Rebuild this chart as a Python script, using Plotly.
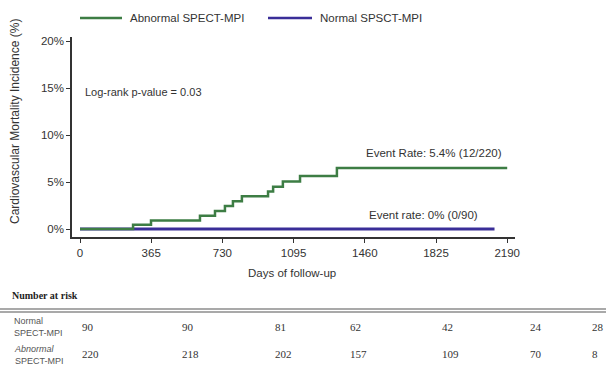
import plotly.graph_objects as go

# Kaplan-Meier cumulative incidence (%) by day of follow-up
abn_days = [0, 272, 364, 615, 692, 743, 784, 830, 964, 990, 1040, 1128, 1317, 2190]
abn_inc = [0.0, 0.45, 0.92, 1.42, 1.93, 2.45, 2.97, 3.48, 4.0, 4.5, 5.05, 5.65, 6.5, 6.5]
norm_days = [0, 2125]
norm_inc = [0.0, 0.0]

x_ticks = [0, 365, 730, 1095, 1460, 1825, 2190]
y_ticks = [0, 5, 10, 15, 20]

# Number-at-risk table
risk_normal = [90, 90, 81, 62, 42, 24, 28]
risk_abnormal = [220, 218, 202, 157, 109, 70, 8]

GREEN = "#3d7d44"
BLUE = "#3a2e98"
TEXT = "#333333"
SANS = "Liberation Sans, Arial, sans-serif"
SERIF = "Liberation Serif, Times New Roman, serif"

W, H = 606, 390
L, R, T, B = 72, 91, 37, 153
PW, PH = W - L - R, H - T - B


def px(x):
    return (x - L) / PW


def py(y):
    return (H - B - y) / PH


fig = go.Figure()
fig.add_trace(go.Scatter(x=norm_days, y=norm_inc, mode="lines",
                         line=dict(color=BLUE, width=3, shape="hv"),
                         name="Normal SPSCT-MPI", showlegend=False))
fig.add_trace(go.Scatter(x=abn_days, y=abn_inc, mode="lines",
                         line=dict(color=GREEN, width=2.5, shape="hv"),
                         name="Abnormal SPECT-MPI", showlegend=False))

shapes = []
annotations = []

# Legend
for x0, x1, col, label in [(80, 122, GREEN, "Abnormal SPECT-MPI"),
                           (268, 312, BLUE, "Normal SPSCT-MPI")]:
    shapes.append(dict(type="line", xref="paper", yref="paper",
                       x0=px(x0), x1=px(x1), y0=py(18), y1=py(18),
                       line=dict(color=col, width=2.5)))
    annotations.append(dict(xref="paper", yref="paper", x=px(x1 + 6), y=py(18),
                            text=label, showarrow=False, xanchor="left",
                            yanchor="middle", font=dict(size=11.5, color=TEXT, family=SANS)))

annotations += [
    dict(xref="paper", yref="paper", x=px(83), y=py(92), text="Log-rank p-value = 0.03",
         showarrow=False, xanchor="left", yanchor="middle",
         font=dict(size=11, color=TEXT, family=SANS)),
    dict(x=1815, y=8.1, text="Event Rate: 5.4% (12/220)", showarrow=False,
         xanchor="center", yanchor="middle", font=dict(size=11.5, color=TEXT, family=SANS)),
    dict(x=1763, y=1.5, text="Event rate: 0% (0/90)", showarrow=False,
         xanchor="center", yanchor="middle", font=dict(size=11.5, color=TEXT, family=SANS)),
    dict(xref="paper", yref="paper", x=px(15), y=py(122),
         text="Cardiovascular Mortality Incidence (%)", textangle=-90, showarrow=False,
         xanchor="center", yanchor="middle", font=dict(size=12, color=TEXT, family=SANS)),
    dict(xref="paper", yref="paper", x=px(292), y=py(273), text="Days of follow-up",
         showarrow=False, xanchor="center", yanchor="middle",
         font=dict(size=11.5, color=TEXT, family=SANS)),
    dict(xref="paper", yref="paper", x=px(10), y=py(295), text="<b>Number at risk</b>",
         showarrow=False, xanchor="left", yanchor="middle",
         font=dict(size=10, color="#222222", family=SERIF)),
    dict(xref="paper", yref="paper", x=px(12), y=py(327), text="Normal<br>SPECT-MPI",
         showarrow=False, xanchor="left", yanchor="middle", align="left",
         font=dict(size=9, color="#555555", family=SANS)),
    dict(xref="paper", yref="paper", x=px(12), y=py(355), text="<i>Abnormal</i><br>SPECT-MPI",
         showarrow=False, xanchor="left", yanchor="middle", align="left",
         font=dict(size=9, color="#555555", family=SANS)),
]

# Table rules
for yy in (309, 312):
    shapes.append(dict(type="line", xref="paper", yref="paper",
                       x0=px(0), x1=px(W), y0=py(yy), y1=py(yy),
                       line=dict(color="#555555", width=1.2)))

col_x = [80, 180, 273, 348, 440, 528, 590]
for cx, n_norm, n_abn in zip(col_x, risk_normal, risk_abnormal):
    annotations.append(dict(xref="paper", yref="paper", x=px(cx), y=py(327),
                            text=str(n_norm), showarrow=False, xanchor="left",
                            yanchor="middle", font=dict(size=11, color=TEXT, family=SERIF)))
    annotations.append(dict(xref="paper", yref="paper", x=px(cx), y=py(354),
                            text=str(n_abn), showarrow=False, xanchor="left",
                            yanchor="middle", font=dict(size=11, color=TEXT, family=SERIF)))

fig.update_layout(
    width=W, height=H,
    margin=dict(l=L, r=R, t=T, b=B, pad=0),
    paper_bgcolor="white", plot_bgcolor="white",
    showlegend=False,
    shapes=shapes, annotations=annotations,
    xaxis=dict(range=[-41, 2230], tickvals=x_ticks, ticktext=[str(v) for v in x_ticks],
               showline=True, linecolor="#333333", linewidth=1.5, ticks="outside",
               ticklen=4, tickcolor="#333333", showgrid=False, zeroline=False,
               tickfont=dict(size=11.5, color=TEXT, family=SANS)),
    yaxis=dict(range=[-0.85, 20.45], tickvals=y_ticks, ticktext=[f"{v}%" for v in y_ticks],
               showline=True, linecolor="#333333", linewidth=1.5, ticks="outside",
               ticklen=4, tickcolor="#333333", showgrid=False, zeroline=False,
               tickfont=dict(size=11.5, color=TEXT, family=SANS)),
)

fig.write_html("out.html")
